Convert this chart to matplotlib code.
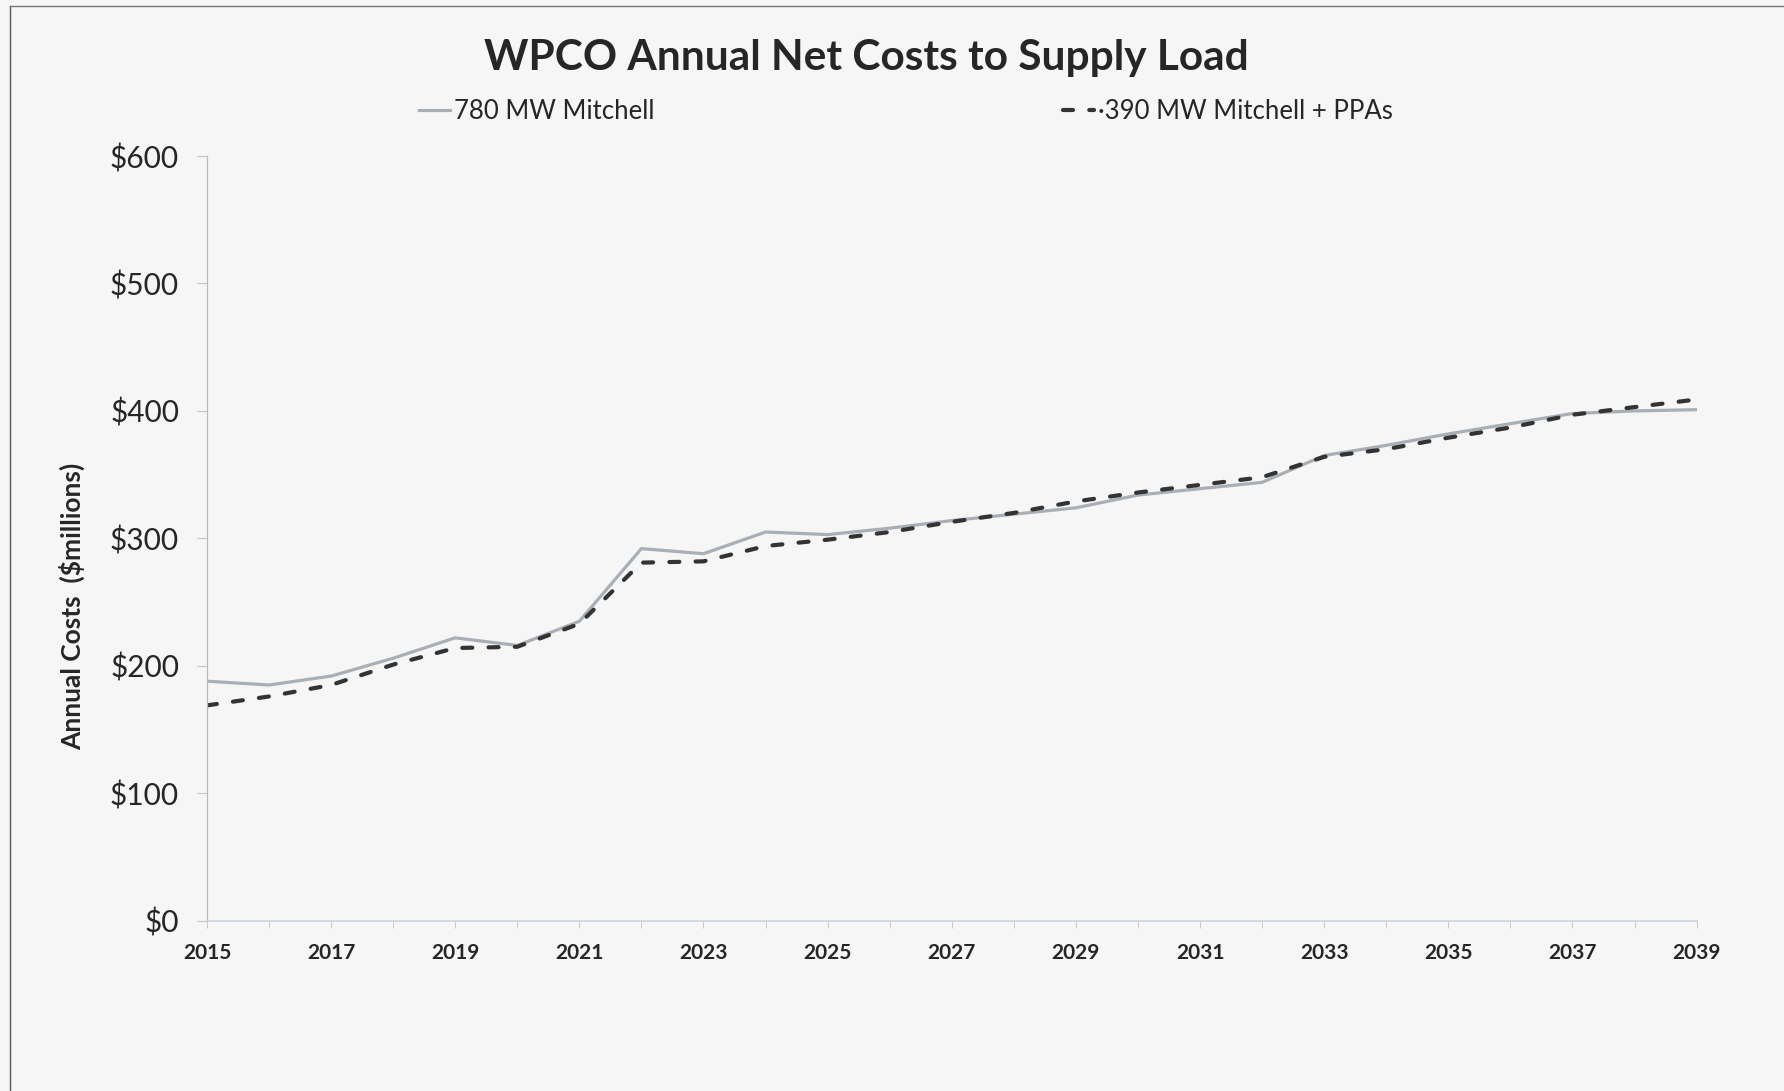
import matplotlib
matplotlib.use("Agg")
import matplotlib.pyplot as plt
from matplotlib.lines import Line2D

# ── Data ($ millions) ───────────────────────────────────────────────────────
years = list(range(2015, 2040))
mitchell_780 = [188, 185, 192, 206, 222, 216, 235, 292, 288, 305, 303, 308,
                314, 319, 324, 334, 339, 344, 365, 373, 382, 390, 398, 400, 401]
mitchell_390_ppa = [169, 176, 185, 201, 214, 215, 233, 281, 282, 294, 299, 305,
                    313, 320, 329, 336, 342, 348, 364, 370, 379, 387, 397, 403, 409]
series_labels = ["780 MW Mitchell", "\u00b7390 MW Mitchell + PPAs"]
ytick_values = [0, 100, 200, 300, 400, 500, 600]

title = "WPCO Annual Net Costs to Supply Load"
ylabel = "Annual Costs  ($millions)"

BG = "#f6f6f6"
FONT = "Lato"

plt.rcParams["font.family"] = [FONT, "DejaVu Sans"]

fig = plt.figure(figsize=(17.84, 10.91), dpi=100, facecolor=BG)
ax = fig.add_axes([0.116, 0.156, 0.835, 0.701], facecolor=BG)

(solid,) = ax.plot(years, mitchell_780, color="#a9afb5", linewidth=2.3,
                   solid_joinstyle="round")
(dashed,) = ax.plot(years, mitchell_390_ppa, color="#333333", linewidth=3.0,
                    dash_capstyle="round")
dashed.set_dashes([2.4, 3.9])

ax.set_xlim(2015, 2039)
ax.set_ylim(0, 600)

ax.set_yticks(ytick_values)
ax.set_yticklabels([f"${v}" for v in ytick_values])
ax.set_xticks(years)
ax.set_xticklabels([str(y) if (y - 2015) % 2 == 0 else "" for y in years])

for side in ("top", "right"):
    ax.spines[side].set_visible(False)
ax.spines["left"].set_color("#b8b8b8")
ax.spines["left"].set_linewidth(0.9)
ax.spines["bottom"].set_color("#c8d6dc")
ax.spines["bottom"].set_linewidth(1.2)

ax.tick_params(axis="y", direction="out", length=7, width=0.8, color="#c4c4c4",
               pad=13, labelsize=21.5, labelcolor="#262626")
ax.tick_params(axis="x", direction="out", length=5, width=0.7, color="#c8c8c8",
               pad=11, labelsize=15, labelcolor="#262626")
for lbl in ax.get_xticklabels():
    lbl.set_fontweight("bold")

fig.text(0.4855, 0.947, title, ha="center", va="center", fontsize=30.5,
         fontweight="bold", color="#262626")
fig.text(0.0404, 0.444, ylabel, ha="center", va="center", rotation=90,
         fontsize=19, fontweight="bold", color="#262626")

# legend entries placed separately, as in the original layout
leg_kw = dict(frameon=False, fontsize=18.5, handlelength=1.2, handletextpad=0.15,
              borderpad=0, borderaxespad=0, loc="center left",
              bbox_transform=fig.transFigure, labelcolor="#262626")
leg1 = ax.legend([solid], [series_labels[0]], bbox_to_anchor=(0.235, 0.898),
                 **leg_kw)
ax.add_artist(leg1)
ax.legend([dashed], [series_labels[1]], bbox_to_anchor=(0.596, 0.898), **leg_kw)

# page frame (left and top edges visible in the scan)
fig.add_artist(Line2D([0.0056, 0.0056], [0, 0.9945], transform=fig.transFigure,
                      color="#555555", linewidth=1.0))
fig.add_artist(Line2D([0.0056, 1.0], [0.9945, 0.9945], transform=fig.transFigure,
                      color="#777777", linewidth=1.0))

fig.savefig("out.png", dpi=100, facecolor=BG)
